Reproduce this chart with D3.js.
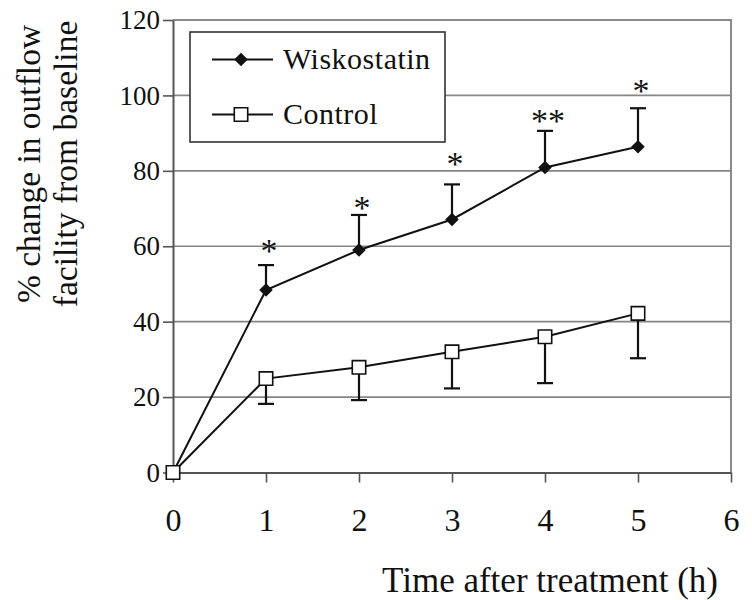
<!DOCTYPE html>
<html><head><meta charset="utf-8">
<script src="https://cdn.jsdelivr.net/npm/d3@7"></script>
<style>
body{margin:0;background:#fff}
svg{display:block}
</style>
</head><body>
<svg id="chart" width="752" height="600" font-family="'Liberation Serif', 'Times New Roman', serif"></svg>
<script>
// ---- data ----
const hours = [0, 1, 2, 3, 4, 5];
const wiskostatin = [0, 48.4, 59.0, 67.1, 80.9, 86.4];
const wiskostatinErr = [0, 6.6, 9.3, 9.3, 9.7, 10.2];   // shown upward
const control = [0, 24.9, 27.9, 32.0, 36.0, 42.2];
const controlErr = [0, 6.7, 8.7, 9.7, 12.3, 11.9];     // shown downward
const seriesNames = ["Wiskostatin", "Control"];
const sigHours = [1, 2, 3, 4, 5];
const sigLabels = ["*", "*", "*", "**", "*"];
const sigY = [60.3, 71.8, 83.4, 94.8, 102.8];
const xTickValues = [0, 1, 2, 3, 4, 5, 6];
const yTickValues = [0, 20, 40, 60, 80, 100, 120];
const xTitle = "Time after treatment (h)";
const yTitleLines = ["% change in outflow", "facility from baseline"];

// ---- drawing ----
const FONT = "'Liberation Serif', 'Times New Roman', serif";
const svg = d3.select("#chart");
const x = d3.scaleLinear().domain([0, 6]).range([173, 731]);
const y = d3.scaleLinear().domain([0, 120]).range([472.5, 20]);

// gridlines
svg.append("g").selectAll("line").data(yTickValues.filter(v => v > 0 && v < 120)).join("line")
  .attr("x1", x(0)).attr("x2", x(6)).attr("y1", d => y(d)).attr("y2", d => y(d))
  .attr("stroke", "#858585").attr("stroke-width", 1.6);
// top & right border
svg.append("path")
  .attr("d", `M${x(0)},${y(120)}H${x(6)}V${y(0)}`)
  .attr("fill", "none").attr("stroke", "#8a8a8a").attr("stroke-width", 2);

// axes
const yAxis = svg.append("g").attr("transform", `translate(${x(0)},0)`)
  .call(d3.axisLeft(y).tickValues(yTickValues).tickFormat(d3.format("d"))
    .tickSize(10).tickSizeOuter(0).tickPadding(3));
yAxis.selectAll("text").style("font-size", "27px").style("font-family", FONT).attr("fill", "#111");
const xAxis = svg.append("g").attr("transform", `translate(0,${y(0)})`)
  .call(d3.axisBottom(x).tickValues(xTickValues).tickFormat(d3.format("d"))
    .tickSize(10).tickSizeOuter(0).tickPadding(26));
xAxis.selectAll("text").style("font-size", "32px").style("font-family", FONT).attr("fill", "#111");
[yAxis, xAxis].forEach(a => {
  a.attr("font-family", FONT);
  a.select(".domain").attr("stroke", "#555").attr("stroke-width", 2);
  a.selectAll(".tick line").attr("stroke", "#555").attr("stroke-width", 1.6);
});

// error bars
const cap = 8;
const errG = svg.append("g").attr("stroke", "#111").attr("stroke-width", 2.2);
hours.forEach((h, i) => {
  if (wiskostatinErr[i] > 0) {
    const top = y(wiskostatin[i] + wiskostatinErr[i]);
    errG.append("line").attr("x1", x(h)).attr("x2", x(h)).attr("y1", y(wiskostatin[i])).attr("y2", top);
    errG.append("line").attr("x1", x(h) - cap).attr("x2", x(h) + cap).attr("y1", top).attr("y2", top);
  }
  if (controlErr[i] > 0) {
    const bot = y(control[i] - controlErr[i]);
    errG.append("line").attr("x1", x(h)).attr("x2", x(h)).attr("y1", y(control[i])).attr("y2", bot);
    errG.append("line").attr("x1", x(h) - cap).attr("x2", x(h) + cap).attr("y1", bot).attr("y2", bot);
  }
});

// lines
const line = d3.line().x(d => x(d[0])).y(d => y(d[1]));
svg.append("path").datum(hours.map((h, i) => [h, wiskostatin[i]]))
  .attr("d", line).attr("fill", "none").attr("stroke", "#111").attr("stroke-width", 2);
svg.append("path").datum(hours.map((h, i) => [h, control[i]]))
  .attr("d", line).attr("fill", "none").attr("stroke", "#111").attr("stroke-width", 2);

// markers
const diamond = d3.symbol(d3.symbolSquare, 92)();
const square = d3.symbol(d3.symbolSquare, 180)();
svg.append("g").selectAll("path").data(hours.map((h, i) => [h, wiskostatin[i]])).join("path")
  .attr("d", diamond).attr("transform", d => `translate(${x(d[0])},${y(d[1])}) rotate(45)`)
  .attr("fill", "#111");
svg.append("g").selectAll("path").data(hours.map((h, i) => [h, control[i]])).join("path")
  .attr("d", square).attr("transform", d => `translate(${x(d[0])},${y(d[1])})`)
  .attr("fill", "#fff").attr("stroke", "#111").attr("stroke-width", 1.6);

// significance asterisks
svg.append("g").selectAll("text").data(sigHours.map((h, i) => [h, sigY[i], sigLabels[i]])).join("text")
  .attr("x", d => x(d[0]) + 3).attr("y", d => y(d[1]) + 17)
  .attr("text-anchor", "middle").style("font-family", FONT).style("font-size", "34px")
  .attr("fill", "#111").text(d => d[2]);

// legend
const lg = svg.append("g");
lg.append("rect").attr("x", 190).attr("y", 32).attr("width", 255).attr("height", 110)
  .attr("fill", "#fff").attr("stroke", "#333").attr("stroke-width", 1.6);
const rows = [{ name: seriesNames[0], ly: 59.5, mark: diamond, rot: 45, fill: "#111" },
              { name: seriesNames[1], ly: 114.5, mark: square, rot: 0, fill: "#fff" }];
rows.forEach(r => {
  lg.append("line").attr("x1", 212).attr("x2", 273).attr("y1", r.ly).attr("y2", r.ly)
    .attr("stroke", "#111").attr("stroke-width", 2);
  lg.append("path").attr("d", r.mark).attr("transform", `translate(241,${r.ly}) rotate(${r.rot})`)
    .attr("fill", r.fill).attr("stroke", r.fill === "#fff" ? "#111" : "none").attr("stroke-width", 1.6);
  lg.append("text").attr("x", 283).attr("y", r.ly + 9)
    .style("font-family", FONT).style("font-size", "30px")
    .style("letter-spacing", "0.5px").attr("fill", "#111").text(r.name);
});

// titles
svg.append("text").attr("x", 718).attr("y", 592).attr("text-anchor", "end")
  .style("font-family", FONT).style("font-size", "35px").attr("fill", "#111").text(xTitle);
const yt = svg.append("text").attr("transform", "translate(0,164) rotate(-90)")
  .attr("text-anchor", "middle").style("font-family", FONT).style("font-size", "33.5px").attr("fill", "#111");
yt.append("tspan").attr("x", 0).attr("y", 40).text(yTitleLines[0]);
yt.append("tspan").attr("x", 0).attr("y", 77).text(yTitleLines[1]);
</script>
</body></html>
